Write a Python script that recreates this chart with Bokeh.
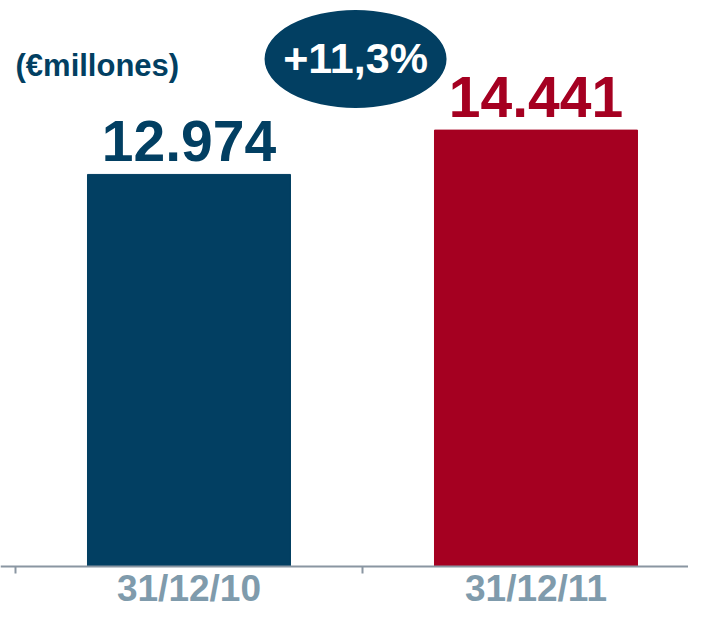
from bokeh.plotting import figure
from bokeh.models import Range1d, FixedTicker, Label, ColumnDataSource
from bokeh.core.properties import value
from bokeh.embed import file_html
from bokeh.resources import INLINE

# data
categories = ["31/12/10", "31/12/11"]
values = [12974, 14441]
value_labels = ["12.974", "14.441"]
unit_label = "(€millones)"
bar_colors = ["#023F62", "#A50021"]

growth = (values[1] / values[0] - 1) * 100
growth_label = "+" + f"{growth:.1f}".replace(".", ",") + "%"

FONT = "Liberation Sans"
xs = list(range(len(categories)))

p = figure(width=688, height=610, output_backend="svg", toolbar_location=None,
           x_range=Range1d(-0.5432, 1.4395), y_range=Range1d(-1456, 18730),
           y_axis_location=None, min_border_left=0, min_border_right=0,
           min_border_top=0, min_border_bottom=0)
p.outline_line_color = None
p.grid.visible = False
p.background_fill_color = "white"

src = ColumnDataSource(dict(x=xs, top=values, color=bar_colors, label=value_labels))
p.vbar(x="x", top="top", width=0.585, bottom=0, color="color", source=src)

p.text(x="x", y="top", text="label", source=src, text_color="color",
       text_font=value(FONT), text_font_style="bold", text_font_size="57px",
       text_align="center", text_baseline="alphabetic", y_offset=-33)

# growth bubble
bx = 0.48
by = max(values) * 1.163
p.ellipse(x=[bx], y=[by], width=182, height=98, width_units="screen",
          height_units="screen", fill_color="#023F62", line_color=None)
p.text(x=[bx], y=[by], text=[growth_label], text_color="white",
       text_font=value(FONT), text_font_style="bold", text_font_size="43px",
       text_align="center", text_baseline="middle", y_offset=-1)

p.add_layout(Label(x=15, y=max(values) * 1.148, x_units="screen", text=unit_label,
                   text_font=FONT, text_font_style="bold", text_font_size="31px",
                   text_color="#023F62", text_baseline="middle"))

ax = p.xaxis[0]
ax.fixed_location = 0
ax.ticker = FixedTicker(ticks=xs, minor_ticks=[-0.5, 0.5, 1.5])
ax.major_label_overrides = {i: c for i, c in zip(xs, categories)}
ax.major_tick_out = 0
ax.major_tick_in = 0
ax.minor_tick_in = 0
ax.minor_tick_out = 7
ax.axis_line_color = "#8A96A2"
ax.axis_line_width = 2
ax.minor_tick_line_color = "#8A96A2"
ax.minor_tick_line_width = 2
ax.major_label_text_font = FONT
ax.major_label_text_font_style = "bold"
ax.major_label_text_font_size = "37px"
ax.major_label_text_color = "#7F9BAC"
ax.major_label_standoff = -6

open("out.html", "w").write(file_html(p, INLINE))
